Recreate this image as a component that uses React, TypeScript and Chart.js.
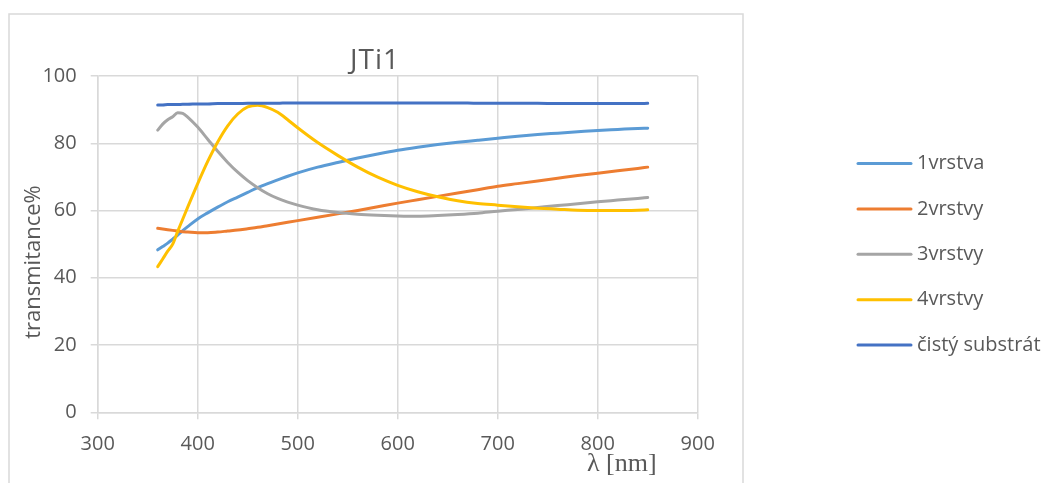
import React, { useEffect, useRef } from "react";
import { Chart, registerables } from "chart.js";

Chart.register(...registerables);

const chartTitle = "JTi1";
const xAxisTitle = "λ [nm]";
const yAxisTitle = "transmitance%";

const xTickValues = [300, 400, 500, 600, 700, 800, 900];
const yTickValues = [0, 20, 40, 60, 80, 100];

const wavelengths = [
  360, 365, 370, 375, 380, 385, 390, 400, 410, 420, 430, 440, 450, 460, 470, 480, 490, 500,
  520, 540, 560, 580, 600, 620, 640, 660, 680, 700, 720, 740, 760, 780, 800, 820, 840, 850,
];

const vrstva1 = [
  48.3, 49.3, 50.3, 51.5, 52.7, 54.0, 55.2, 57.5, 59.3, 61.0, 62.6, 64.0, 65.4, 66.8, 68.0, 69.1, 70.2, 71.2,
  72.9, 74.3, 75.6, 76.8, 77.9, 78.8, 79.6, 80.3, 80.9, 81.5, 82.1, 82.6, 83.0, 83.4, 83.8, 84.1, 84.4, 84.5,
];

const vrstvy2 = [
  54.7, 54.5, 54.3, 54.1, 53.9, 53.7, 53.6, 53.4, 53.4, 53.6, 53.9, 54.2, 54.6, 55.0, 55.5, 56.0, 56.5, 57.0,
  58.0, 59.0, 60.0, 61.1, 62.2, 63.2, 64.2, 65.2, 66.2, 67.2, 68.0, 68.8, 69.6, 70.4, 71.1, 71.8, 72.5, 72.9,
];

const vrstvy3 = [
  83.9, 85.7, 87.0, 87.9, 89.1, 88.9, 87.8, 84.8, 81.2, 77.6, 74.3, 71.4, 68.9, 66.8, 65.0, 63.6, 62.5, 61.6,
  60.2, 59.4, 58.9, 58.6, 58.4, 58.3, 58.5, 58.8, 59.2, 59.8, 60.3, 60.9, 61.5, 62.0, 62.6, 63.1, 63.6, 63.9,
];

const vrstvy4 = [
  43.3, 45.6, 47.9, 50.0, 53.8, 57.4, 61.0, 68.0, 74.6, 80.4, 85.2, 88.7, 90.8, 91.3, 90.6, 89.2, 87.0, 84.6,
  80.2, 76.4, 72.9, 69.9, 67.5, 65.6, 64.1, 62.9, 62.1, 61.6, 61.1, 60.7, 60.4, 60.1, 60.0, 60.0, 60.1, 60.2,
];

const substrat = [
  91.4, 91.4, 91.5, 91.5, 91.5, 91.6, 91.6, 91.7, 91.7, 91.8, 91.8, 91.8, 91.9, 91.9, 91.9, 91.9, 92.0, 92.0,
  92.0, 92.0, 92.0, 92.0, 92.0, 92.0, 92.0, 92.0, 91.9, 91.9, 91.9, 91.9, 91.8, 91.8, 91.8, 91.8, 91.8, 91.9,
];

const seriesLabels = ["1vrstva", "2vrstvy", "3vrstvy", "4vrstvy", "čistý substrát"];
const seriesValues = [vrstva1, vrstvy2, vrstvy3, vrstvy4, substrat];
const seriesColors = ["#5B9BD5", "#ED7D31", "#A5A5A5", "#FFC000", "#4472C4"];

const TEXT = "#595959";
const GRID = "#d9d9d9";

const decorPlugin = {
  id: "decor",
  beforeDraw(chart: any) {
    const ctx = chart.ctx;
    ctx.save();
    ctx.fillStyle = "#ffffff";
    ctx.fillRect(0, 0, chart.width, chart.height);
    ctx.strokeStyle = GRID;
    ctx.lineWidth = 1.5;
    ctx.strokeRect(9, 14, 734, 520);
    ctx.restore();
  },
  afterDraw(chart: any) {
    const ctx = chart.ctx;
    ctx.save();
    // title
    ctx.fillStyle = TEXT;
    ctx.font = "28px 'Open Sans'";
    (ctx as any).letterSpacing = "1px";
    ctx.textAlign = "center";
    ctx.textBaseline = "alphabetic";
    ctx.fillText(chartTitle, 375, 69);
    (ctx as any).letterSpacing = "0px";

    // y axis title
    ctx.save();
    ctx.translate(40, 262);
    ctx.rotate(-Math.PI / 2);
    ctx.font = "22px 'Open Sans'";
    ctx.textAlign = "center";
    ctx.textBaseline = "alphabetic";
    ctx.fillText(yAxisTitle, 0, 0);
    ctx.restore();

    // x axis title
    ctx.font = "26px 'Liberation Serif'";
    ctx.textAlign = "left";
    ctx.textBaseline = "alphabetic";
    ctx.fillText(xAxisTitle, 587, 471);

    // legend
    const lx0 = 858;
    const lx1 = 911;
    const ly0 = 163.5;
    const lstep = 45.4;
    chart.data.datasets.forEach((ds: any, i: number) => {
      const y = ly0 + i * lstep;
      ctx.strokeStyle = ds.borderColor;
      ctx.lineWidth = 3;
      ctx.lineCap = "round";
      ctx.beginPath();
      ctx.moveTo(lx0, y);
      ctx.lineTo(lx1, y);
      ctx.stroke();
      ctx.fillStyle = TEXT;
      ctx.font = "20px 'Open Sans'";
      ctx.textAlign = "left";
      ctx.textBaseline = "middle";
      ctx.fillText(ds.label, 917, y);
    });
    ctx.restore();
  },
};

export default function App() {
  const canvasRef = useRef<HTMLCanvasElement | null>(null);

  useEffect(() => {
    if (!canvasRef.current) return;
    const datasets = seriesLabels.map((label, i) => ({
      label,
      data: wavelengths.map((w, j) => ({ x: w, y: seriesValues[i][j] })),
      borderColor: seriesColors[i],
      backgroundColor: seriesColors[i],
      borderWidth: 3,
      pointRadius: 0,
      cubicInterpolationMode: "monotone" as const,
      fill: false,
      order: seriesLabels.length - i,
      borderCapStyle: "round" as const,
      borderJoinStyle: "round" as const,
    }));

    const chart = new Chart(canvasRef.current, {
      type: "line",
      data: { datasets },
      plugins: [decorPlugin],
      options: {
        responsive: false,
        animation: false,
        layout: { padding: { left: 0, top: 76, right: 351.3, bottom: 30.7 } },
        plugins: {
          legend: { display: false },
          title: { display: false },
          tooltip: { enabled: false },
        },
        scales: {
          x: {
            type: "linear",
            min: 300,
            max: 900,
            afterFit: (s: any) => {
              s.height = 40;
            },
            afterBuildTicks: (s: any) => {
              s.ticks = xTickValues.map((v) => ({ value: v }));
            },
            grid: { color: GRID, lineWidth: 1.5, tickLength: 7 },
            border: { color: GRID, width: 1.5 },
            ticks: {
              color: TEXT,
              font: { family: "'Open Sans'", size: 20 },
              padding: 13,
              maxRotation: 0,
            },
          },
          y: {
            type: "linear",
            min: 0,
            max: 100,
            afterFit: (s: any) => {
              s.width = 97.7;
            },
            afterBuildTicks: (s: any) => {
              s.ticks = yTickValues.map((v) => ({ value: v }));
            },
            grid: { color: GRID, lineWidth: 1.5, tickLength: 7 },
            border: { color: GRID, width: 1.5 },
            ticks: {
              color: TEXT,
              font: { family: "'Open Sans'", size: 20 },
              padding: 14,
            },
          },
        },
      },
    });
    return () => chart.destroy();
  }, []);

  return (
    <div style={{ position: "absolute", left: 0, top: 0, width: 1049, height: 483, background: "#fff" }}>
      <canvas ref={canvasRef} width={1049} height={483} />
    </div>
  );
}
